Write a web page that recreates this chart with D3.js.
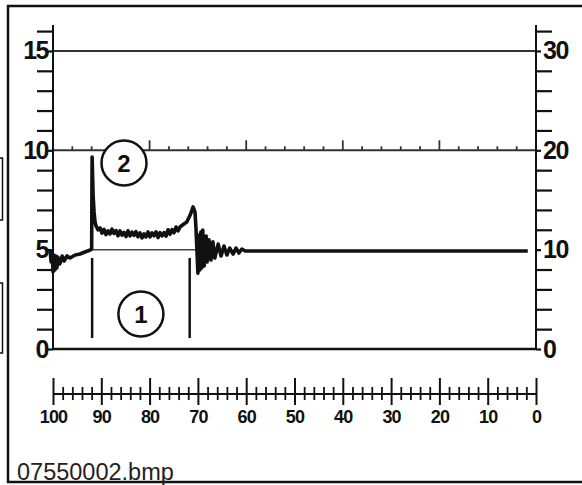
<!DOCTYPE html>
<html>
<head>
<meta charset="utf-8">
<script src="https://cdn.jsdelivr.net/npm/d3@7"></script>
<style>
  html, body { margin: 0; padding: 0; background: #fff; }
  svg { display: block; }
</style>
</head>
<body>
<svg id="chart" width="582" height="485"></svg>
<script>
// ---------- data ----------
const leftTickValues = d3.range(0, 17, 1);
const leftLabelValues = [0, 5, 10, 15];
const rightTickValues = d3.range(0, 33, 2);
const rightLabelValues = [0, 10, 20, 30];
const bottomMajorValues = d3.range(0, 101, 10);
const bottomMinorValues = d3.range(0, 101, 2).filter(v => v % 10 !== 0);
const topTickValues = d3.range(0, 26, 1);
const gridValues = [15, 10];

// signal: time (bottom scale units, 100 -> 0) and level (left scale units)
const sigTime = [100.6,100.4,100.2,100.0,99.8,99.6,99.4,99.2,99.0,98.6,98.1,97.7,97.1,96.5,95.4,94.4,93.4,92.3,92.0,
  91.9,91.7,91.5,91.3,91.1,90.7,
  90.27,89.86,89.44,89.03,88.61,88.20,87.78,87.37,86.96,86.54,86.13,85.71,85.30,84.89,84.47,84.06,83.64,83.23,82.82,82.40,
  81.99,81.57,81.16,80.75,80.33,79.92,79.50,79.09,78.67,78.26,77.85,77.43,77.02,76.60,76.19,75.78,75.36,74.95,74.53,74.12,73.71,
  72.9,72.3,71.6,71.0,70.6,70.4,70.2,
  70.0,69.8,69.6,69.4,69.2,69.0,68.7,68.3,68.1,67.7,67.3,66.9,66.5,65.8,65.2,64.6,64.0,63.4,62.7,62.1,61.5,60.9,60.2,1.7];
const sigLevel = [5.03,4.38,4.88,3.88,4.73,3.98,4.68,4.08,4.63,4.28,4.68,4.43,4.68,4.58,4.73,4.78,4.88,4.98,5.03,
  9.66,7.75,6.9,6.4,6.2,6.0,
  6.09,5.83,6.02,5.76,5.95,5.79,6.03,5.82,5.96,5.70,5.94,5.73,5.87,5.66,5.95,5.69,5.88,5.72,5.91,5.65,
  5.84,5.59,5.79,5.64,5.89,5.64,5.84,5.70,5.90,5.61,5.86,5.69,5.86,5.68,6.00,5.77,6.01,5.85,6.14,5.94,6.14,
  6.29,6.39,6.74,7.15,6.89,6.09,4.98,
  3.82,5.74,3.98,5.89,4.08,5.99,4.18,5.69,4.38,5.49,4.48,5.39,4.58,5.28,4.68,5.18,4.73,5.08,4.78,5.08,4.83,5.03,4.93,4.93];

// annotation (1): markers and reference line
const markerTimes = [91.9, 71.7];
const markerLevels = [4.58, 0.55];
const refLine = { t0: 91.9, t1: 70.4, level: 5.0 };
const callouts = [
  { label: "2", t: 85.3, v: 9.36 },
  { label: "1", t: 81.8, v: 1.76 }
];
const caption = "07550002.bmp";

// ---------- scales ----------
const X0 = 53, X1 = 536;
const y = d3.scaleLinear().domain([0, 16.3]).range([349, 349 - 16.3 * 19.87]);
const yR = d3.scaleLinear().domain([0, 32.6]).range([349, 349 - 16.3 * 19.87]);
const x = d3.scaleLinear().domain([100, 0]).range([X0, X1]);
const xTop = d3.scaleLinear().domain([0, 25]).range([X0, X1]);

const svg = d3.select("#chart");
const ink = "#111";

// ---------- frame ----------
svg.append("line").attr("x1", 8).attr("x2", 8).attr("y1", 5).attr("y2", 483)
  .attr("stroke", ink).attr("stroke-width", 2.5);
svg.append("line").attr("x1", 7).attr("x2", 582).attr("y1", 6).attr("y2", 6)
  .attr("stroke", ink).attr("stroke-width", 2.5);
svg.append("line").attr("x1", 7).attr("x2", 582).attr("y1", 482).attr("y2", 482)
  .attr("stroke", ink).attr("stroke-width", 2.5);
// cut-off boxes on the left edge
[[158, 220], [283, 353]].forEach(([a, b]) => {
  svg.append("rect").attr("x", -2).attr("y", a).attr("width", 4.5).attr("height", b - a)
    .attr("fill", "none").attr("stroke", ink).attr("stroke-width", 1.5);
});

// ---------- grid lines ----------
gridValues.forEach(v => {
  svg.append("line").attr("x1", X0).attr("x2", X1).attr("y1", y(v)).attr("y2", y(v))
    .attr("stroke", "#333").attr("stroke-width", 2);
});
svg.append("line").attr("x1", X0).attr("x2", X1).attr("y1", y(0)).attr("y2", y(0))
  .attr("stroke", ink).attr("stroke-width", 2.5);

// ticks on the 10 line
svg.append("g").selectAll("line").data(topTickValues).join("line")
  .attr("x1", d => xTop(d)).attr("x2", d => xTop(d))
  .attr("y1", y(10)).attr("y2", d => y(10) - (d % 5 === 0 ? 10 : 4))
  .attr("stroke", "#333").attr("stroke-width", 1.8);

// ---------- left axis ----------
const leftMinor = svg.append("g").attr("transform", `translate(${X0},0)`)
  .call(d3.axisLeft(y).tickValues(leftTickValues.filter(v => !leftLabelValues.includes(v)))
    .tickSize(16).tickFormat(""));
const leftMajor = svg.append("g").attr("transform", `translate(${X0},0)`)
  .call(d3.axisLeft(y).tickValues(leftLabelValues).tickSize(5).tickPadding(0));
[leftMinor, leftMajor].forEach(g => {
  g.select(".domain").attr("d", `M0,${y(16.3)}V${y(0)}`).attr("stroke", ink).attr("stroke-width", 2);
  g.selectAll(".tick line").attr("stroke", ink).attr("stroke-width", 2.2);
});
leftMajor.selectAll("text").attr("font-family", "Liberation Sans, Arial, sans-serif")
  .attr("font-size", 25).attr("font-weight", "bold").attr("letter-spacing", -1.5)
  .attr("fill", ink);

// ---------- right axis ----------
const rightMinor = svg.append("g").attr("transform", `translate(${X1},0)`)
  .call(d3.axisRight(yR).tickValues(rightTickValues.filter(v => !rightLabelValues.includes(v)))
    .tickSize(16).tickFormat(""));
const rightMajor = svg.append("g").attr("transform", `translate(${X1},0)`)
  .call(d3.axisRight(yR).tickValues(rightLabelValues).tickSize(5).tickPadding(2));
[rightMinor, rightMajor].forEach(g => {
  g.select(".domain").attr("d", `M0,${yR(32.6)}V${yR(0)}`).attr("stroke", ink).attr("stroke-width", 2);
  g.selectAll(".tick line").attr("stroke", ink).attr("stroke-width", 2.2);
});
rightMajor.selectAll("text").attr("font-family", "Liberation Sans, Arial, sans-serif")
  .attr("font-size", 25).attr("font-weight", "bold").attr("letter-spacing", -1.5)
  .attr("fill", ink);

// ---------- bottom (separate) axis ----------
const AX_Y = 394;
const bMinor = svg.append("g").attr("transform", `translate(0,${AX_Y})`)
  .call(d3.axisBottom(x).tickValues(bottomMinorValues).tickFormat(""));
bMinor.select(".domain").remove();
bMinor.selectAll(".tick line").attr("y1", -7).attr("y2", 6).attr("stroke", ink).attr("stroke-width", 1.8);
const bMajor = svg.append("g").attr("transform", `translate(0,${AX_Y})`)
  .call(d3.axisBottom(x).tickValues(bottomMajorValues).tickFormat(d3.format("d")));
bMajor.select(".domain").attr("d", `M${X0},0H${X1}`).attr("stroke", ink).attr("stroke-width", 2);
bMajor.selectAll(".tick line").attr("y1", -16).attr("y2", 11).attr("stroke", ink).attr("stroke-width", 2);
bMajor.selectAll(".tick text").attr("y", 23).attr("dy", "0.36em")
  .attr("font-family", "Liberation Sans, Arial, sans-serif").attr("font-size", 18)
  .attr("font-weight", "bold").attr("letter-spacing", -0.8).attr("fill", ink);

// ---------- annotation (1) ----------
svg.append("line").attr("x1", x(refLine.t0)).attr("x2", x(refLine.t1))
  .attr("y1", y(refLine.level)).attr("y2", y(refLine.level))
  .attr("stroke", "#444").attr("stroke-width", 1.5);
svg.append("g").selectAll("line").data(markerTimes).join("line")
  .attr("x1", d => x(d)).attr("x2", d => x(d))
  .attr("y1", y(markerLevels[0])).attr("y2", y(markerLevels[1]))
  .attr("stroke", ink).attr("stroke-width", 2.5);

// ---------- signal ----------
const sig = sigTime.map((t, i) => [t, sigLevel[i]]);
svg.append("path").datum(sig)
  .attr("d", d3.line().x(d => x(d[0])).y(d => y(d[1])))
  .attr("fill", "none").attr("stroke", ink).attr("stroke-width", 3.6)
  .attr("stroke-linejoin", "round");

// ---------- callouts ----------
const co = svg.append("g").selectAll("g").data(callouts).join("g")
  .attr("transform", d => `translate(${x(d.t)},${y(d.v)})`);
co.append("circle").attr("r", 22.5).attr("fill", "#fff").attr("stroke", ink).attr("stroke-width", 2.5);
co.append("text").text(d => d.label).attr("text-anchor", "middle").attr("dy", "0.36em")
  .attr("font-family", "Liberation Sans, Arial, sans-serif").attr("font-size", 24)
  .attr("font-weight", "bold").attr("fill", ink);

// ---------- caption ----------
svg.append("text").text(caption).attr("x", 17).attr("y", 480)
  .attr("font-family", "Liberation Sans, Arial, sans-serif").attr("font-size", 23.5)
  .attr("fill", "#222");
</script>
</body>
</html>
